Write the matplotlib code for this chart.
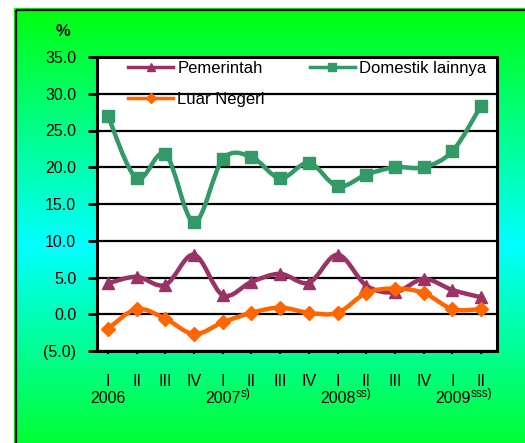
import numpy as np
import matplotlib
matplotlib.use('Agg')
import matplotlib.pyplot as plt
from matplotlib.path import Path
from matplotlib.patches import PathPatch, Rectangle
from matplotlib.lines import Line2D
import matplotlib.transforms as mtransforms

plt.rcParams['font.family'] = ['Liberation Sans', 'DejaVu Sans']

# quarters 2006 I .. 2009 II
quarters = ['I', 'II', 'III', 'IV', 'I', 'II', 'III', 'IV',
            'I', 'II', 'III', 'IV', 'I', 'II']
years = ['2006', '2007', '2008', '2009']
year_notes = ['', 's)', 'ss)', 'sss)']
year_pos = [0, 4, 8, 12]

pemerintah = [4.2, 5.1, 4.0, 8.1, 2.6, 4.4, 5.5, 4.3, 8.1, 3.9, 3.0, 4.8, 3.3, 2.3]
domestik = [27.0, 18.5, 21.8, 12.5, 21.1, 21.4, 18.5, 20.6, 17.4, 19.0, 20.0, 20.0, 22.2, 28.4]
luar_negeri = [-2.0, 0.7, -0.6, -2.7, -1.1, 0.2, 0.9, 0.2, 0.2, 2.9, 3.5, 2.9, 0.7, 0.7]

c_pem = '#993366'
c_dom = '#339966'
c_luar = '#FF6600'


def smooth_path(x, y):
    '''smooth_path
    Bezier path through the points (Excel style smoothed line)
    '''
    pts = np.column_stack([x, y]).astype(float)
    n = len(pts)
    verts = [pts[0]]
    codes = [Path.MOVETO]
    for i in range(n - 1):
        p0 = pts[i - 1] if i > 0 else pts[i]
        p3 = pts[i + 2] if i + 2 < n else pts[i + 1]
        c1 = pts[i] + (pts[i + 1] - p0) / 6.0
        c2 = pts[i + 1] - (p3 - pts[i]) / 6.0
        verts += [c1, c2, pts[i + 1]]
        codes += [Path.CURVE4] * 3
    return Path(verts, codes)


W, H = 525, 443
fig = plt.figure(figsize=(W / 100, H / 100), dpi=100)
fig.patch.set_facecolor('white')

# background: green -> cyan -> green gradient with black frame
bg = fig.add_axes([0, 0, 1, 1], zorder=-10)
bg.set_xlim(0, W)
bg.set_ylim(H, 0)
bg.axis('off')
top, bottom = 9, 480
rows = np.linspace(top, bottom, 400)
mid = (top + bottom) / 2.0
blue = np.clip(1.0 - np.abs(rows - mid) / (mid - top), 0, 1) * 0.95 + 0.05
grad = np.zeros((len(rows), 1, 3))
grad[:, 0, 1] = 1.0
grad[:, 0, 2] = blue
bg.imshow(grad, extent=(15, 545, bottom, top), aspect='auto', interpolation='bilinear')
bg.add_patch(Rectangle((14, 8), 540, 480, fill=False, edgecolor='#00FF00', lw=1.0))
bg.add_patch(Rectangle((16, 10), 540, 480, fill=False, edgecolor='black', lw=1.6))

ax = fig.add_axes([97 / W, (H - 351) / H, 400 / W, 294 / H])
ax.set_facecolor('white')
x = np.arange(len(quarters))

series = [('Pemerintah', pemerintah, c_pem, '^', 9, 3),
          ('Domestik lainnya', domestik, c_dom, 's', 8.5, 4),
          ('Luar Negeri', luar_negeri, c_luar, 'D', 7.5, 5)]
handles = {}
for name, vals, col, mk, ms, z in series:
    ax.add_patch(PathPatch(smooth_path(x, vals), fill=False, edgecolor=col,
                           lw=3.2, zorder=z, capstyle='round', joinstyle='round'))
    ax.plot(x, vals, linestyle='none', marker=mk, ms=ms, color=col, zorder=z)
    handles[name] = Line2D([], [], color=col, lw=2.5, marker=mk, ms=ms * 0.7)

ax.set_xlim(-0.38, 13.55)
ax.set_ylim(-5, 35)
ax.set_yticks(np.arange(-5, 40, 5))
ax.set_yticklabels(['(%.1f)' % abs(v) if v < 0 else '%.1f' % v for v in np.arange(-5, 40, 5)])
ax.set_xticks(x)
ax.set_xticklabels(quarters)
ax.tick_params(axis='y', direction='out', length=6.5, width=2, pad=8.5, labelsize=11.5)
ax.tick_params(axis='x', direction='out', length=2.5, width=1.5, pad=14, labelsize=11.5)
ax.yaxis.grid(True, color='black', lw=1.6)
for sp in ax.spines.values():
    sp.set_linewidth(2.2)
    sp.set_color('black')

trans = mtransforms.blended_transform_factory(ax.transData, ax.transAxes)
for pos, yr, note in zip(year_pos, years, year_notes):
    t = ax.text(pos, -0.163, yr, transform=trans, ha='center', va='center', fontsize=11.5)
    if note:
        ax.annotate(note, xy=(1, 0.85), xycoords=t, ha='left', va='center', fontsize=8.5)

fig.text(63 / W, 1 - 32 / H, '%', ha='center', va='center', fontsize=12, fontweight='bold')

order = ['Pemerintah', 'Luar Negeri', 'Domestik lainnya']
ax.legend([handles[k] for k in order], order, ncol=2, loc='upper left',
          bbox_to_anchor=(128 / W, 1 - 61 / H), bbox_transform=fig.transFigure,
          frameon=False, fontsize=12, handlelength=2.7, handletextpad=0.25,
          columnspacing=2.7, labelspacing=0.95, borderpad=0, borderaxespad=0)

fig.savefig('out.png', dpi=100)
